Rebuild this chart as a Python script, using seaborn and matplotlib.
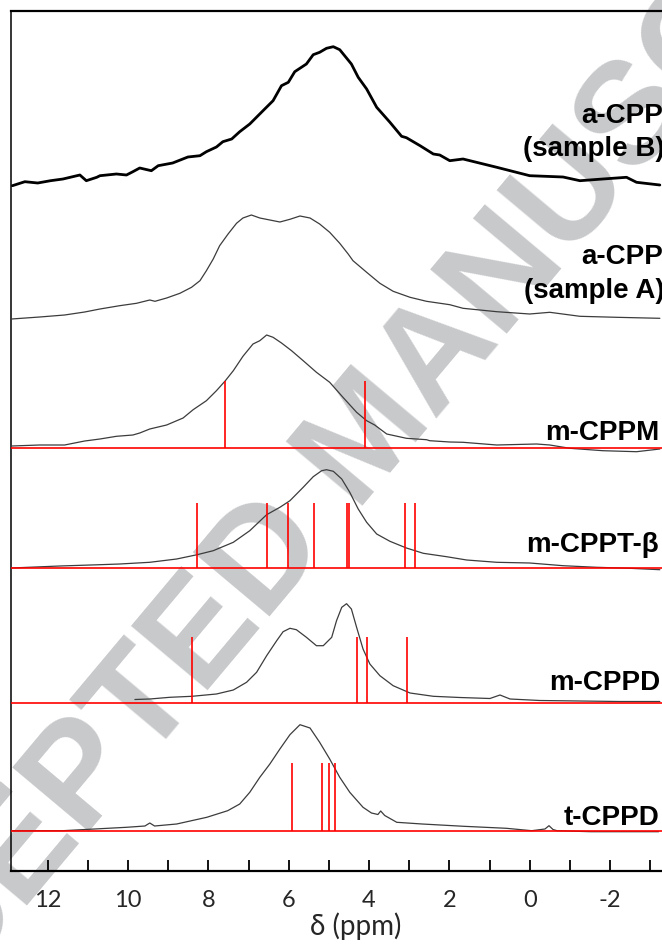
import matplotlib
matplotlib.use("Agg")
import matplotlib.pyplot as plt
import seaborn as sns
import pandas as pd
from matplotlib.ticker import MultipleLocator

# ---------------- data (ppm, intensity above each trace's baseline) ----------------
names = ["a-CPP (sample B)", "a-CPP (sample A)", "m-CPPM", "m-CPPT-β", "m-CPPD", "t-CPPD"]
offsets = [686, 552, 423, 303, 168, 40]

ppm_B = [12.88, 12.57, 12.25, 11.93, 11.62, 11.20, 11.04, 10.78, 10.70, 10.29, 10.04, 9.88, 9.71, 9.42,
         9.25, 8.89, 8.51, 8.21, 8.05, 7.80, 7.64, 7.42, 7.22, 6.97, 6.64, 6.39, 6.18, 6.01, 5.85, 5.56,
         5.39, 5.23, 5.06, 4.89, 4.73, 4.44, 4.27, 4.06, 3.81, 3.48, 3.19, 3.07, 2.73, 2.40, 2.24, 1.99,
         1.66, 0.82, 0.00, -0.83, -1.25, -1.82, -2.41, -2.66, -3.24]
int_B = [-0.7, 3.3, 2.0, 4.3, 6.0, 10.0, 4.3, 7.7, 9.3, 11.0, 10.0, 13.3, 17.0, 14.3,
         19.3, 22.0, 28.0, 29.3, 33.3, 38.0, 43.3, 46.0, 53.3, 61.0, 74.3, 84.3, 99.3, 102.7, 113.3, 121.0,
         130.3, 132.7, 136.7, 138.3, 135.3, 121.0, 107.7, 96.0, 77.7, 62.7, 48.7, 47.3, 39.3, 31.0, 30.0, 24.3,
         26.0, 17.7, 9.3, 8.0, 4.3, 6.0, 7.7, 2.7, 0.0]

ppm_A = [12.90, 12.20, 11.58, 11.08, 10.70, 10.21, 9.79, 9.46, 9.33, 9.04, 8.71, 8.42, 8.21, 8.05, 7.88,
         7.72, 7.51, 7.30, 7.14, 6.93, 6.72, 6.47, 6.22, 5.97, 5.72, 5.47, 5.23, 4.98, 4.73, 4.52, 4.40,
         4.06, 3.73, 3.40, 2.98, 2.57, 1.99, 1.66, 0.82, 0.00, -0.50, -1.25, -2.16, -3.24]
int_A = [0.0, 2.0, 4.0, 7.0, 10.0, 13.3, 15.7, 19.0, 17.7, 21.0, 25.7, 31.7, 38.3, 48.3, 60.0,
         73.3, 85.0, 95.7, 101.0, 104.0, 101.0, 99.0, 97.0, 99.7, 103.0, 101.0, 95.0, 86.7, 75.7, 65.0, 58.3,
         46.7, 35.7, 27.7, 21.7, 17.7, 14.3, 10.7, 7.3, 5.0, 6.7, 2.7, 1.7, 0.7]

ppm_M = [12.90, 12.20, 11.58, 11.08, 10.70, 10.29, 9.88, 9.71, 9.46, 9.04, 8.63, 8.38, 8.05, 7.80, 7.59,
         7.38, 7.14, 6.89, 6.72, 6.55, 6.39, 6.18, 5.93, 5.64, 5.31, 4.98, 4.65, 4.31, 4.06, 3.86, 3.56,
         3.07, 2.57, 2.49, 1.99, 1.66, 0.82, -0.17, -0.50, -1.00, -1.82, -2.66, -3.24]
int_M = [2.0, 3.0, 3.0, 7.0, 9.0, 11.7, 13.0, 15.0, 19.0, 23.0, 30.0, 38.3, 47.3, 57.3, 66.7,
         77.3, 91.7, 104.0, 107.3, 113.0, 110.7, 105.0, 97.3, 87.3, 75.7, 65.7, 50.7, 35.7, 27.3, 23.0, 14.0,
         9.7, 8.3, 7.3, 6.0, 5.7, 3.0, 4.0, 3.0, -0.3, -2.7, -3.7, -1.0]

ppm_T = [12.90, 11.70, 10.70, 10.21, 9.46, 8.79, 8.28, 7.88, 7.38, 6.97, 6.55, 6.22, 5.97, 5.64, 5.39,
         5.18, 5.06, 4.89, 4.68, 4.48, 4.27, 4.06, 3.81, 3.48, 3.07, 2.65, 2.07, 1.57, 0.82, 0.00, -0.83,
         -1.67, -2.50, -3.24]
int_T = [0.0, 2.0, 3.3, 4.0, 5.7, 9.0, 13.3, 17.3, 25.7, 37.3, 53.3, 60.7, 67.3, 80.7, 91.3,
         97.3, 98.3, 96.7, 89.0, 75.7, 59.0, 45.7, 34.0, 26.7, 20.0, 14.7, 11.3, 8.0, 5.7, 5.0, 2.3,
         0.7, -0.3, -1.7]

ppm_D = [9.83, 9.46, 8.96, 8.41, 7.80, 7.38, 7.05, 6.80, 6.55, 6.30, 6.14, 5.97, 5.81, 5.56, 5.31, 5.14,
         4.93, 4.81, 4.68, 4.56, 4.44, 4.31, 4.15, 3.98, 3.73, 3.40, 2.98, 2.40, 1.74, 0.99, 0.74, 0.49,
         -0.25, -1.25, -2.24, -3.24]
int_D = [3.5, 4.0, 5.7, 6.7, 9.0, 13.0, 20.7, 30.7, 47.3, 62.3, 71.3, 74.7, 73.3, 65.7, 57.3, 57.3,
         65.7, 82.3, 95.7, 99.3, 94.0, 75.7, 54.0, 39.0, 27.3, 17.3, 10.0, 6.7, 5.5, 4.5, 8.0, 4.0,
         2.5, 2.0, 1.5, 1.5]

ppm_t = [12.88, 11.63, 10.04, 9.58, 9.46, 9.34, 8.79, 8.04, 7.52, 7.22, 6.97, 6.72, 6.47, 6.22, 5.97,
         5.72, 5.47, 5.23, 4.98, 4.73, 4.48, 4.15, 3.94, 3.78, 3.71, 3.61, 3.31, 2.68, 1.64, 0.58, -0.05,
         -0.38, -0.48, -0.58, -0.68, -1.52, -3.21]
int_t = [0.3, 0.3, 3.7, 5.0, 8.0, 5.0, 7.0, 13.7, 20.3, 27.0, 38.7, 53.7, 67.0, 82.0, 96.3,
         106.3, 103.0, 88.7, 72.0, 53.7, 38.7, 23.7, 18.0, 16.5, 20.0, 15.5, 8.7, 7.0, 4.7, 2.7, 0.3,
         2.0, 5.3, 1.5, 0.3, -0.7, -0.7]

# calculated stick positions (ppm) and heights for the crystalline phases
sticks_M = [7.59, 4.09]
sticks_T = [8.28, 6.54, 6.03, 5.38, 4.55, 4.50, 3.10, 2.86]
sticks_D = [8.41, 4.30, 4.06, 3.05]
sticks_t = [5.92, 5.18, 4.99, 4.84]
stick_heights = [67, 65, 66, 68]

xticks_major = [12, 10, 8, 6, 4, 2, 0, -2, -4]

# ---------------- figure ----------------
sns.set_style("white")
plt.rcParams["font.family"] = ["Lato", "DejaVu Sans"]

W, H = 662, 945
fig = plt.figure(figsize=(W / 100, H / 100), dpi=100)
ax = fig.add_axes([11 / W, 73 / H, 689 / W, 860 / H])

# watermark
ax.text(358 / 689, (872 - 440) / 860, "ACCEPTED MANUSCRIPT", transform=ax.transAxes,
        rotation=50, rotation_mode="anchor", ha="center", va="center",
        fontsize=104, fontweight="bold", family="Liberation Sans", color="#c8c9cb",
        zorder=0, clip_on=False)

series = [(ppm_B, int_B), (ppm_A, int_A), (ppm_M, int_M), (ppm_T, int_T), (ppm_D, int_D), (ppm_t, int_t)]
for i, ((px, iy), off) in enumerate(zip(series, offsets)):
    df = pd.DataFrame({"ppm": px, "y": [off + v for v in iy]})
    if i == 0:
        sns.lineplot(data=df, x="ppm", y="y", ax=ax, color="black", linewidth=2.0,
                     estimator=None, sort=False, zorder=3)
    else:
        sns.lineplot(data=df, x="ppm", y="y", ax=ax, color="#3c3c3c", linewidth=0.9,
                     estimator=None, sort=False, zorder=3)

xmin, xmax = 12.915, -4.24
stick_sets = [sticks_M, sticks_T, sticks_D, sticks_t]
for sticks, hgt, off in zip(stick_sets, stick_heights, offsets[2:]):
    ax.hlines(off, xmin, xmax, color="#ff0000", linewidth=1.2, zorder=4)
    ax.vlines(sticks, off, off + hgt, color="#ff0000", linewidth=1.2, zorder=4)

# labels
lab_kw = dict(ha="right", va="baseline", fontsize=20, fontweight="bold",
              family="Liberation Sans", color="black", zorder=5, clip_on=False)
ax.text(-3.32, 749, "a-CPP", **lab_kw)
ax.text(-3.37, 716, "(sample B)", **lab_kw)
ax.text(-3.32, 608, "a-CPP", **lab_kw)
ax.text(-3.37, 574, "(sample A)", **lab_kw)
ax.text(-3.24, 432, "m-CPPM", **lab_kw)
ax.text(-3.22, 320, "m-CPPT-β", **lab_kw)
ax.text(-3.24, 182, "m-CPPD", **lab_kw)
ax.text(-3.24, 47, "t-CPPD", **lab_kw)

ax.set_xlim(xmin, xmax)
ax.set_ylim(0, 860)
ax.set_yticks([])
ax.set_ylabel("")
ax.set_xticks(xticks_major)
ax.set_xticklabels([str(t) for t in xticks_major])
ax.xaxis.set_minor_locator(MultipleLocator(1))
ax.tick_params(axis="x", which="both", direction="in", length=8, width=1.3,
               color="black", bottom=True, top=False)
ax.tick_params(axis="x", which="major", labelsize=17, pad=13)
ax.set_xlabel("δ (ppm)", fontsize=20, labelpad=1)

for side, lw in [("left", 1.1), ("bottom", 1.6), ("top", 1.6)]:
    ax.spines[side].set_visible(True)
    ax.spines[side].set_color("black")
    ax.spines[side].set_linewidth(lw)
ax.spines["right"].set_visible(False)

fig.savefig("out.png", dpi=100)
